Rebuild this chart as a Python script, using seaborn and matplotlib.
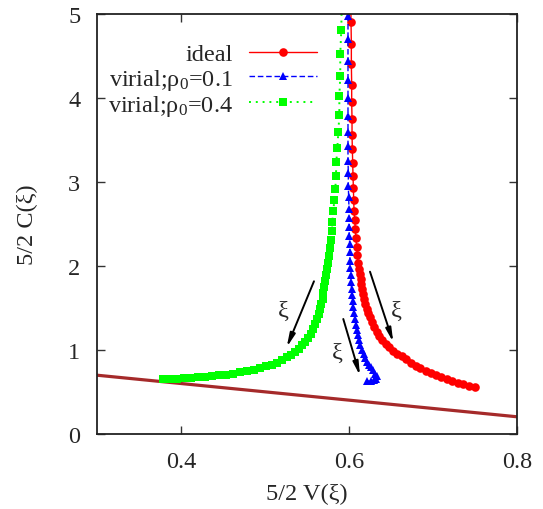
import os
import matplotlib
matplotlib.use("Agg")
import matplotlib.pyplot as plt
from matplotlib import font_manager
import seaborn as sns
import pandas as pd

# ideal gas trajectory
ideal_v = [0.6022, 0.6024, 0.6028, 0.6028, 0.6032, 0.6032, 0.6036, 0.6036, 0.6040, 0.6044,
           0.6048, 0.6052, 0.6056, 0.6060, 0.6068, 0.6075, 0.6083, 0.6091, 0.6099, 0.6107,
           0.6119, 0.6127, 0.6137, 0.6146, 0.6157, 0.6169, 0.6182, 0.6196, 0.6212, 0.6230,
           0.6250, 0.6274, 0.6300, 0.6329, 0.6361, 0.6396, 0.6435, 0.6476, 0.6524, 0.6571,
           0.6625, 0.6679, 0.6735, 0.6792, 0.6851, 0.6911, 0.6973, 0.7036, 0.7099, 0.7163,
           0.7226, 0.7292, 0.7357, 0.7425, 0.7500]
ideal_c = [5.15, 4.91, 4.64, 4.40, 4.16, 3.95, 3.75, 3.56, 3.39, 3.23,
           3.07, 2.925, 2.79, 2.66, 2.55, 2.44, 2.33, 2.23, 2.13, 2.04,
           1.964, 1.905, 1.845, 1.786, 1.726, 1.667, 1.607, 1.548, 1.494, 1.440,
           1.393, 1.333, 1.274, 1.220, 1.167, 1.119, 1.071, 1.030, 0.994, 0.958,
           0.923, 0.887, 0.851, 0.815, 0.782, 0.752, 0.724, 0.698, 0.674, 0.651,
           0.630, 0.610, 0.592, 0.575, 0.560]

# virial expansion, rho_0 = 0.1
vir1_v = [0.5988, 0.5988, 0.5988, 0.5988, 0.5988, 0.5988, 0.5988, 0.5988, 0.5988, 0.5992,
          0.5992, 0.5996, 0.6000, 0.6000, 0.6004, 0.6004, 0.6008, 0.6008, 0.6012, 0.6015,
          0.6019, 0.6024, 0.6030, 0.6036, 0.6044, 0.6051, 0.6060, 0.6071, 0.6083, 0.6095,
          0.6107, 0.6119, 0.6135, 0.6155, 0.6175, 0.6196, 0.6218, 0.6238, 0.6262, 0.6286,
          0.6310, 0.6330, 0.6321, 0.6292, 0.6256, 0.6220]
vir1_c = [4.98, 4.702, 4.444, 4.214, 4.000, 3.789, 3.592, 3.432, 3.254, 3.104,
          2.956, 2.818, 2.679, 2.568, 2.461, 2.361, 2.262, 2.163, 2.063, 1.973,
          1.893, 1.810, 1.726, 1.655, 1.583, 1.512, 1.440, 1.369, 1.298, 1.238,
          1.179, 1.119, 1.060, 1.000, 0.952, 0.905, 0.863, 0.827, 0.792, 0.756,
          0.720, 0.685, 0.655, 0.637, 0.631, 0.631]

# virial expansion, rho_0 = 0.4
vir4_v = [0.5913, 0.5908, 0.5896, 0.5896, 0.5885, 0.5885, 0.5873, 0.5861, 0.5849, 0.5845,
          0.5837, 0.5825, 0.5813, 0.5801, 0.5798, 0.5786, 0.5777, 0.5765, 0.5754, 0.5742,
          0.5732, 0.5720, 0.5708, 0.5696, 0.5685, 0.5670, 0.5655, 0.5637, 0.5619, 0.5595,
          0.5571, 0.5542, 0.5512, 0.5476, 0.5440, 0.5399, 0.5357, 0.5310, 0.5262, 0.5202,
          0.5143, 0.5083, 0.5012, 0.4940, 0.4869, 0.4786, 0.4702, 0.4619, 0.4536, 0.4452,
          0.4369, 0.4286, 0.4202, 0.4119, 0.4036, 0.3952, 0.3869, 0.3786]
vir4_c = [5.083, 4.806, 4.524, 4.258, 4.020, 3.798, 3.592, 3.401, 3.235, 3.068,
          2.913, 2.782, 2.651, 2.520, 2.413, 2.310, 2.211, 2.119, 2.032, 1.964,
          1.893, 1.821, 1.750, 1.679, 1.607, 1.548, 1.488, 1.429, 1.369, 1.310,
          1.250, 1.190, 1.143, 1.095, 1.054, 1.012, 0.976, 0.940, 0.911, 0.881,
          0.851, 0.827, 0.804, 0.782, 0.764, 0.748, 0.733, 0.720, 0.708, 0.699,
          0.690, 0.682, 0.675, 0.669, 0.663, 0.658, 0.654, 0.649]

# straight boundary line
bound_v = [0.3, 0.8]
bound_c = [0.70, 0.205]

# direction-of-increasing-xi arrows
arrow_tail_v = [0.5583, 0.5932, 0.6250]
arrow_tail_c = [1.818, 1.369, 1.932]
arrow_head_v = [0.5258, 0.6131, 0.6527]
arrow_head_c = [1.032, 0.694, 1.092]
xi_label_v = [0.5218, 0.5860, 0.6568]
xi_label_c = [1.468, 0.969, 1.468]

series_labels = ["ideal", "virial;\u03c1$_{\\mathrm{0}}$=0.1", "virial;\u03c1$_{\\mathrm{0}}$=0.4"]


def pick_serif():
    """Find a Times-like face; fall back to condensed DejaVu Serif."""
    wanted = ["liberationserif-regular", "tinos-regular", "times", "nimbusroman",
              "texgyretermes-regular", "freeserif", "notoserif-regular"]
    files = font_manager.findSystemFonts()
    for key in wanted:
        for f in files:
            if key in os.path.basename(f).lower().replace(" ", ""):
                try:
                    font_manager.fontManager.addfont(f)
                    return font_manager.FontProperties(fname=f).get_name(), "normal"
                except Exception:
                    continue
    for f in files:
        if "dejavuserifcondensed.ttf" == os.path.basename(f).lower():
            font_manager.fontManager.addfont(f)
            return "DejaVu Serif", "condensed"
    return "DejaVu Serif", "normal"


serif, stretch = pick_serif()

sns.set_style("ticks")
plt.rcParams["font.family"] = [serif, "DejaVu Serif"]
plt.rcParams["font.stretch"] = stretch
plt.rcParams["mathtext.fontset"] = "custom"
plt.rcParams["mathtext.rm"] = serif
plt.rcParams["mathtext.it"] = serif + ":italic"

FS = 17.5
fig = plt.figure(figsize=(5.43, 5.10), dpi=100)
ax = fig.add_axes([97 / 543, 75 / 510, 420 / 543, 420 / 510])

bound_df = pd.DataFrame({"v": bound_v, "c": bound_c})
sns.lineplot(data=bound_df, x="v", y="c", ax=ax, color="#a52a2a", lw=2.3,
             sort=False, estimator=None, legend=False)

ideal_df = pd.DataFrame({"v": ideal_v, "c": ideal_c})
sns.lineplot(data=ideal_df, x="v", y="c", ax=ax, color="#ff0000", lw=1.0,
             marker="o", markersize=6.2, markeredgewidth=0, sort=False,
             estimator=None, label=series_labels[0])

vir1_df = pd.DataFrame({"v": vir1_v, "c": vir1_c})
sns.lineplot(data=vir1_df, x="v", y="c", ax=ax, color="#0000ff", lw=1.0,
             linestyle=(0, (4, 2)), marker="^", markersize=6.0, markeredgewidth=0,
             sort=False, estimator=None, label=series_labels[1])

vir4_df = pd.DataFrame({"v": vir4_v, "c": vir4_c})
sns.lineplot(data=vir4_df, x="v", y="c", ax=ax, color="#00ff00", lw=1.4,
             linestyle=(0, (1, 2.5)), marker="s", markersize=6.0, markeredgewidth=0,
             sort=False, estimator=None, label=series_labels[2])

for tv, tc, hv, hc, lv, lc in zip(arrow_tail_v, arrow_tail_c, arrow_head_v,
                                  arrow_head_c, xi_label_v, xi_label_c):
    ax.annotate("", xy=(hv, hc), xytext=(tv, tc),
                arrowprops=dict(arrowstyle="-|>,head_length=0.8,head_width=0.16",
                                color="black", lw=1.4, shrinkA=0, shrinkB=0))
    ax.text(lv, lc, "\u03be", ha="center", va="center", fontsize=FS)

ax.set_xlim(0.3, 0.8)
ax.set_ylim(0, 5)
ax.set_xticks([0.4, 0.6, 0.8])
ax.set_xticklabels(["0.4", "0.6", "0.8"])
ax.set_yticks([0, 1, 2, 3, 4, 5])
ax.set_yticklabels(["0", "1", "2", "3", "4", "5"])
ax.tick_params(axis="both", direction="in", length=6, width=1.0, color="#333333",
               labelsize=FS, top=True, right=True)
ax.tick_params(axis="x", pad=12)
ax.tick_params(axis="y", pad=12)
for s in ax.spines.values():
    s.set_linewidth(1.3)
    s.set_color("#222222")

ax.set_xlabel("5/2 V(\u03be)", fontsize=FS)
ax.set_ylabel("5/2 C(\u03be)", fontsize=FS)
ax.xaxis.set_label_coords(0.5, -0.117)
ax.yaxis.set_label_coords(-0.14, 0.5)

leg = ax.legend(loc="upper left", bbox_to_anchor=(0.027, 0.93), frameon=False,
                markerfirst=False, fontsize=FS, handlelength=2.8, handletextpad=0.65,
                labelspacing=0.05, borderpad=0, borderaxespad=0)

fig.savefig("out.png", dpi=100)
